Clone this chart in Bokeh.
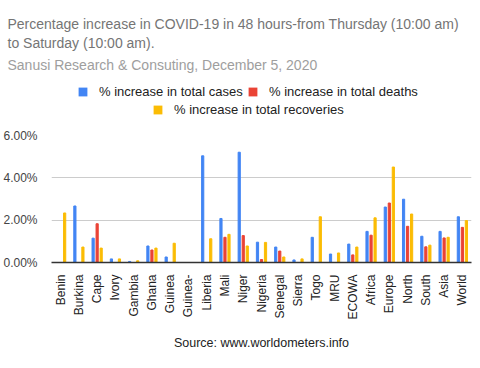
import math
from bokeh.plotting import figure
from bokeh.layouts import column
from bokeh.models import (ColumnDataSource, Legend, LegendItem, Label, Range1d, Title,
                          PrintfTickFormatter, FixedTicker)
from bokeh.transform import dodge
from bokeh.embed import file_html
from bokeh.resources import INLINE

FONT = "Liberation Sans"
BLUE, RED, YELLOW = "#4285f4", "#ea4335", "#fbbc04"

countries = ["Benin", "Burkina", "Cape", "Ivory", "Gambia", "Ghana", "Guinea",
             "Guinea-", "Liberia", "Mali", "Niger", "Nigeria", "Senegal", "Sierra",
             "Togo", "MRU", "ECOWA", "Africa", "Europe", "North", "South", "Asia", "World"]
cases = [0, 2.67, 1.15, 0.17, 0.05, 0.78, 0.26, 0, 5.04, 2.08, 5.21, 0.96, 0.73, 0.12,
         1.19, 0.40, 0.87, 1.47, 2.62, 2.99, 1.24, 1.47, 2.16]
deaths = [0, 0, 1.83, 0, 0, 0.59, 0, 0, 0, 1.19, 1.27, 0.14, 0.54, 0,
          0, 0, 0.36, 1.29, 2.81, 1.71, 0.74, 1.16, 1.66]
recoveries = [2.34, 0.73, 0.68, 0.17, 0.08, 0.68, 0.91, 0, 1.12, 1.33, 0.78, 0.95, 0.26, 0.17,
              2.16, 0.45, 0.73, 2.11, 4.51, 2.29, 0.82, 1.19, 1.98]
y_ticks = [0, 2, 4, 6]
series_labels = ["% increase in total cases", "% increase in total deaths",
                 "% increase in total recoveries"]

FRAME_LEFT = 50


def blank_fig(h):
    f = figure(width=480, height=h, x_range=Range1d(0, 1), y_range=Range1d(0, 1),
               x_axis_type=None, y_axis_type=None, output_backend="svg",
               toolbar_location=None, min_border_left=0, min_border_right=0,
               min_border_top=0, min_border_bottom=0, outline_line_color=None)
    f.grid.grid_line_color = None
    return f


# ---- header: titles + legend
head = blank_fig(125)
tkw = dict(align="left", offset=-(FRAME_LEFT - 6), text_font=FONT, text_font_size="14px",
           text_font_style="normal")
head.add_layout(Title(text="Sanusi Research & Consuting, December 5, 2020",
                      text_color="#9e9e9e", standoff=4, **tkw), "above")
head.add_layout(Title(text="to Saturday (10:00 am).", text_color="#757575",
                      standoff=3, **tkw), "above")
head.add_layout(Title(text="Percentage increase in COVID-19 in 48 hours-from Thursday (10:00 am)",
                      text_color="#757575", standoff=0, **tkw), "above")
head.add_layout(Title(text=" ", text_font=FONT, text_font_size="8px", standoff=2), "above")

e = dict(x=[0.5], top=[0], bottom=[0], width=0, line_alpha=0)
k1 = head.vbar(fill_color=BLUE, **e)
k2 = head.vbar(fill_color=RED, **e)
k3 = head.vbar(fill_color=YELLOW, **e)
leg_kw = dict(orientation="horizontal", border_line_color=None, background_fill_alpha=0,
              label_text_font=FONT, label_text_font_size="13px", label_text_color="#222222",
              glyph_width=11, glyph_height=11, label_height=15, label_standoff=11,
              spacing=0, padding=0, margin=0)
for lbl, rend, gx, gy in [(series_labels[0], k1, 76, 26), (series_labels[1], k2, 246, 26),
                          (series_labels[2], k3, 151, 8)]:
    head.add_layout(Legend(items=[LegendItem(label=lbl, renderers=[rend])],
                           location=(gx - FRAME_LEFT, gy), **leg_kw), "center")

# ---- main chart
src = ColumnDataSource(dict(country=countries, cases=cases, deaths=deaths, recov=recoveries))
p = figure(x_range=countries, y_range=Range1d(0, 6), width=480, height=197,
           output_backend="svg", toolbar_location=None,
           min_border_left=FRAME_LEFT, min_border_right=9, min_border_top=10,
           min_border_bottom=58, outline_line_color=None)

bw = 0.12
p.vbar(x=dodge("country", -0.22, range=p.x_range), top="cases", width=bw,
       source=src, color=BLUE)
p.vbar(x=dodge("country", 0.0, range=p.x_range), top="deaths", width=bw,
       source=src, color=RED)
p.vbar(x=dodge("country", 0.22, range=p.x_range), top="recov", width=bw,
       source=src, color=YELLOW)

p.yaxis.ticker = FixedTicker(ticks=y_ticks)
p.yaxis.formatter = PrintfTickFormatter(format="%.2f%%")
p.yaxis.axis_line_color = None
p.yaxis.major_tick_line_color = None
p.yaxis.minor_tick_line_color = None
p.yaxis.major_label_text_font = FONT
p.yaxis.major_label_text_font_size = "12px"
p.yaxis.major_label_text_color = "#444444"
p.yaxis.major_label_standoff = 8

p.xaxis.major_label_orientation = math.pi / 2
p.xaxis.axis_line_color = "#333333"
p.xaxis.axis_line_width = 1.5
p.xaxis.major_tick_line_color = None
p.xaxis.minor_tick_line_color = None
p.xaxis.major_label_text_font = FONT
p.xaxis.major_label_text_font_size = "12px"
p.xaxis.major_label_text_color = "#222222"
p.xaxis.major_label_standoff = 6

p.xgrid.grid_line_color = None
p.ygrid.grid_line_color = "#cccccc"
p.ygrid.grid_line_width = 1
p.x_range.range_padding = 0

# ---- footer: source
foot = blank_fig(46)
foot.add_layout(Label(x=260 - FRAME_LEFT, y=26, x_units="screen", y_units="screen",
                      text="Source: www.worldometers.info", text_font=FONT,
                      text_font_size="12.5px", text_color="#222222",
                      text_align="center", text_baseline="middle"))

layout = column(head, p, foot, spacing=0)
open("out.html", "w").write(file_html(layout, INLINE))
